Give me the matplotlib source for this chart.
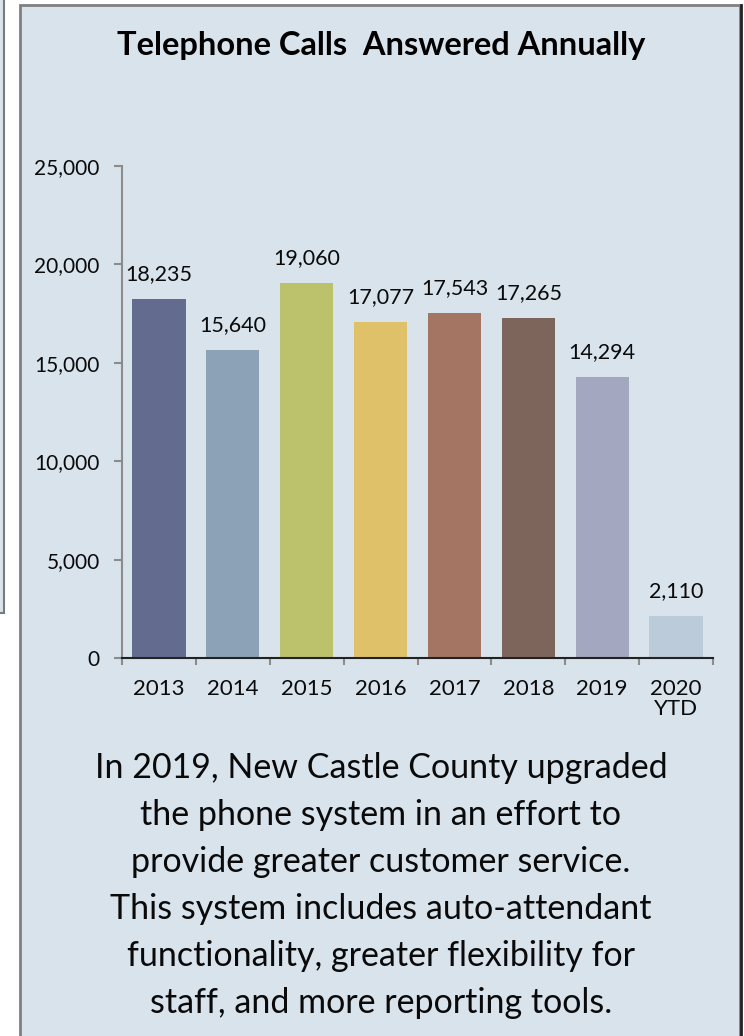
import matplotlib
matplotlib.use("Agg")
import matplotlib.pyplot as plt
import numpy as np
from matplotlib.patches import Rectangle
from matplotlib.lines import Line2D
from matplotlib.ticker import FuncFormatter

plt.rcParams['font.family'] = ['Lato', 'DejaVu Sans']

# data
years = ['2013', '2014', '2015', '2016', '2017', '2018', '2019', '2020\nYTD']
calls = [18235, 15640, 19060, 17077, 17543, 17265, 14294, 2110]
bar_colors = ['#636b8f', '#8ca3b7', '#bcc16c', '#dfc16a',
              '#a57564', '#7e655c', '#a3a7bf', '#bccbd9']
y_ticks = [0, 5000, 10000, 15000, 20000, 25000]

title = 'Telephone Calls  Answered Annually'
caption = ['In 2019, New Castle County upgraded',
           'the phone system in an effort to',
           'provide greater customer service.',
           'This system includes auto-attendant',
           'functionality, greater flexibility for',
           'staff, and more reporting tools.']

W, H = 744, 1036
bg = '#d9e3ec'
ink = '#0a0a0a'

fig = plt.figure(figsize=(W / 100, H / 100), dpi=100)
fig.patch.set_facecolor('white')

# neighbouring panel edge on the far left
fig.add_artist(Rectangle((-10 / W, 1 - 613 / H), 14 / W, 613 / H + 0.05,
                         transform=fig.transFigure, facecolor=bg,
                         edgecolor='#7a7a7a', linewidth=1.5, zorder=0))
# main panel
fig.add_artist(Rectangle((20 / W, -0.05), 720 / W, 1.05 - 5 / H,
                         transform=fig.transFigure, facecolor=bg,
                         edgecolor='#7f7f7f', linewidth=2, zorder=0))
fig.add_artist(Line2D([741 / W, 741 / W], [0, 1 - 5 / H], transform=fig.transFigure,
                      color='#222222', linewidth=2))

ax = fig.add_axes([122 / W, 1 - 658 / H, (713 - 122) / W, (658 - 166) / H])
ax.set_facecolor('none')

x = np.arange(len(years))
bars = ax.bar(x, calls, width=0.72, color=bar_colors, zorder=2)
for b, v in zip(bars, calls):
    ax.annotate(f'{v:,}', (b.get_x() + b.get_width() / 2, v),
                xytext=(0, 18), textcoords='offset points',
                ha='center', va='center', fontsize=15.5, color=ink)

ax.set_xlim(-0.5, len(years) - 0.5)
ax.set_ylim(0, 25000)
ax.set_yticks(y_ticks)
ax.yaxis.set_major_formatter(FuncFormatter(lambda v, p: f'{int(v):,}'))

ax.set_xticks(np.arange(len(years) + 1) - 0.5)
ax.set_xticklabels([])
ax.set_xticks(x, minor=True)
ax.set_xticklabels(years, minor=True, fontsize=16, color=ink, linespacing=1.0)
ax.tick_params(axis='x', which='major', length=5, width=1.5, color='#8c8c8c', direction='out')
ax.tick_params(axis='x', which='minor', length=0, pad=15)
ax.tick_params(axis='y', length=6, width=1.5, color='#8c8c8c', labelsize=15,
               labelcolor=ink, pad=10)

for s in ['top', 'right']:
    ax.spines[s].set_visible(False)
ax.spines['left'].set_color('#8c8c8c')
ax.spines['left'].set_linewidth(1.5)
ax.spines['bottom'].set_color('#222222')
ax.spines['bottom'].set_linewidth(1.5)

fig.text(381 / W, 1 - 45 / H, title, ha='center', va='center',
         fontsize=23.5, fontweight='bold', color='black')

for i, line in enumerate(caption):
    fig.text(381 / W, 1 - (768 + 47 * i) / H, line, ha='center', va='center',
             fontsize=24.5, color=ink)

fig.savefig('out.png', dpi=100, facecolor=fig.get_facecolor())
